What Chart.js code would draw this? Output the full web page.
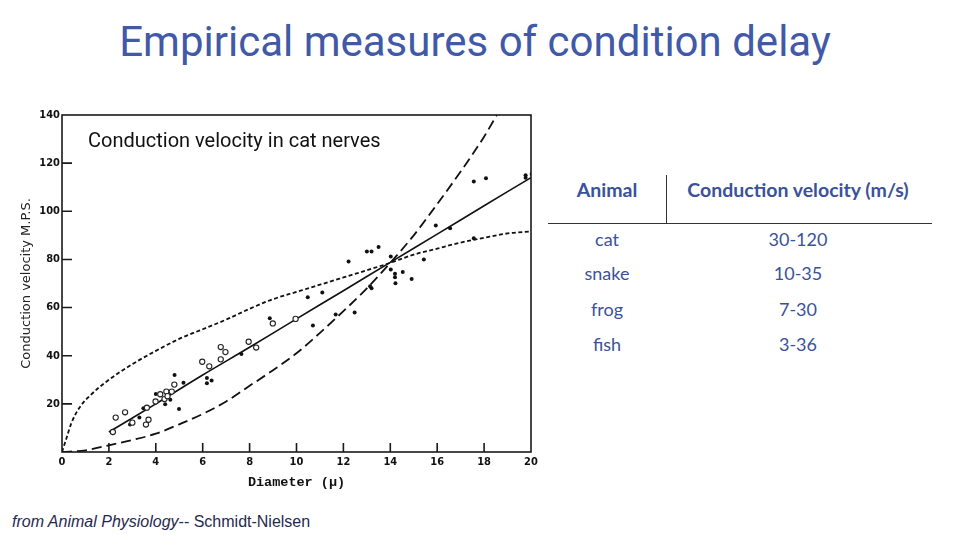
<!DOCTYPE html>
<html>
<head>
<meta charset="utf-8">
<script src="https://cdn.jsdelivr.net/npm/chart.js@4.4.1/dist/chart.umd.min.js"></script>
<style>
  body { margin: 0; width: 960px; height: 540px; background: #fff; position: relative; overflow: hidden; font-family: Roboto, sans-serif; }
  .abs { position: absolute; white-space: nowrap; }
  #title { left: 0; width: 950px; top: 17px; text-align: center; font: 42px Roboto, sans-serif; color: #4159a6; }
  #chartBox { position: absolute; left: 0; top: 100px; width: 545px; height: 400px; }
  #plotTitle { left: 88px; top: 128px; font: 20px Roboto, sans-serif; color: #111; }
  .cell { position: absolute; text-align: center; font: 18px Lato, sans-serif; color: #3a5299; transform: translateY(-50%); }
  .head { font-weight: bold; font-size: 19.5px; }
  #hline { position: absolute; left: 548px; top: 223px; width: 384px; height: 1.3px; background: #333; }
  #vline { position: absolute; left: 666px; top: 175px; width: 1.3px; height: 48px; background: #333; }
  #foot { left: 12px; top: 513px; font: 16px "Liberation Sans", Arial, sans-serif; color: #1f2a50; }
</style>
</head>
<body>
<div id="title" class="abs">Empirical measures of condition delay</div>
<div id="chartBox"><canvas id="nerves"></canvas></div>
<div id="plotTitle" class="abs">Conduction velocity in cat nerves</div>
<div id="table"></div>
<div id="hline"></div>
<div id="vline"></div>
<div id="foot" class="abs"><i>from Animal Physiology</i>-- Schmidt-Nielsen</div>

<script>
// ! data
const xTicks = [0, 2, 4, 6, 8, 10, 12, 14, 16, 18, 20];
const yTicks = [0, 20, 40, 60, 80, 100, 120, 140];

// open circles (x = diameter, y = velocity)
const openX = [2.17, 2.29, 2.69, 3.0, 3.58, 3.62, 3.69, 3.99, 4.19, 4.37, 4.45, 4.5, 4.68, 4.79, 5.98, 6.28, 6.77, 6.77, 6.97, 7.96, 8.28, 8.99, 9.96];
const openY = [8.3, 14.3, 16.5, 12.2, 11.4, 18.4, 13.4, 21, 24, 22, 25.1, 23.2, 25.1, 28, 37.5, 35.6, 38.5, 43.6, 41.5, 45.8, 43.4, 53.4, 55.3];

// filled dots
const dotX = [2.9, 3.3, 3.47, 4.0, 4.4, 4.62, 4.8, 4.99, 5.18, 6.18, 6.18, 6.38, 7.65, 8.86, 10.48, 10.7, 11.1, 11.67, 12.48, 12.22, 13.0, 13.2, 13.5, 13.14, 13.2, 14.02, 14.02, 14.2, 14.2, 14.22, 14.53, 14.91, 15.43, 15.94, 16.55, 17.56, 17.56, 18.08, 19.77, 19.77, 20.03];
const dotY = [11.4, 14.3, 18.2, 24.1, 19.8, 21.7, 32, 17.9, 28.8, 30.7, 28.6, 29.7, 40.7, 55.6, 64.3, 52.6, 66.3, 57.1, 58.0, 79.1, 83.3, 83.3, 85.2, 68.9, 68.0, 81.2, 75.8, 74, 72.6, 70.1, 74.8, 71.9, 80, 94.1, 93, 88.8, 112.4, 113.7, 115, 113.9, 115.5];

// solid fitted line
const solidX = [2, 4, 6, 8, 10, 12, 14, 16, 18, 20];
const solidY = [8.3, 20, 32, 43.5, 55.3, 67, 78.8, 90.5, 102.3, 114];

// long dashed curve
const dashX = [0, 1, 2, 3, 4, 5, 6, 7, 8, 9, 10, 11, 12, 13, 14, 15, 16, 17, 18, 18.6];
const dashY = [0, 0.7, 2.8, 5, 7.6, 11.5, 15.8, 21, 27.5, 34, 41, 49.5, 58.5, 68, 78.6, 90, 103, 116.5, 131, 141];

// short dashed curve
const dotLineX = [0, 0.2, 0.4, 0.75, 1.2, 2, 3, 4, 5, 6, 7, 8, 9, 10, 11, 12, 13, 14, 15, 16, 17, 18, 19, 20];
const dotLineY = [0, 6, 12, 18.5, 23.5, 30, 36.5, 42, 47, 51, 55, 59.5, 63.5, 66.5, 69.5, 72.5, 75.5, 78.6, 82, 84.5, 87, 89, 90.8, 91.6];

// table
const animals = ["cat", "snake", "frog", "fish"];
const velocities = ["30-120", "10-35", "7-30", "3-36"];

const pts = (xs, ys) => xs.map((v, i) => ({ x: v, y: ys[i] }));

// table cells
const table = document.getElementById("table");
function cell(text, cx, cy, w, head) {
  const d = document.createElement("div");
  d.className = "cell" + (head ? " head" : "");
  d.style.left = cx - w / 2 + "px";
  d.style.width = w + "px";
  d.style.top = cy + "px";
  d.textContent = text;
  table.appendChild(d);
}
cell("Animal", 607, 189, 110, true);
cell("Conduction velocity (m/s)", 798, 189, 280, true);
const rowY = [239, 273, 309, 344];
animals.forEach((a, i) => {
  cell(a, 607, rowY[i], 110, false);
  cell(velocities[i], 798, rowY[i], 260, false);
});

// frame and inward tick marks
const frameTicks = {
  id: "frameTicks",
  afterDraw(chart) {
    const { ctx, chartArea: a, scales } = chart;
    ctx.save();
    ctx.strokeStyle = "#1a1a1a";
    ctx.lineWidth = 1.6;
    ctx.strokeRect(a.left, a.top, a.width, a.height);
    ctx.beginPath();
    scales.x.ticks.forEach((t) => {
      if (t.value <= 0 || t.value >= 20) return;
      const px = scales.x.getPixelForValue(t.value);
      ctx.moveTo(px, a.bottom);
      ctx.lineTo(px, a.bottom - 9);
    });
    scales.y.ticks.forEach((t) => {
      if (t.value <= 0 || t.value >= 140) return;
      const py = scales.y.getPixelForValue(t.value);
      ctx.moveTo(a.left, py);
      ctx.lineTo(a.left + 10, py);
    });
    ctx.stroke();
    ctx.restore();
  },
};

const tickFont = { family: "'DejaVu Sans Condensed', 'Liberation Sans Narrow', 'DejaVu Sans', sans-serif", size: 11, weight: "bold" };

new Chart(document.getElementById("nerves"), {
  type: "scatter",
  data: {
    datasets: [
      {
        label: "open",
        data: pts(openX, openY),
        pointRadius: 2.6,
        pointBorderWidth: 1.1,
        pointBackgroundColor: "#fff",
        pointBorderColor: "#222",
      },
      {
        label: "filled",
        data: pts(dotX, dotY),
        pointRadius: 2,
        pointBorderWidth: 0,
        pointBackgroundColor: "#111",
      },
      {
        label: "fit",
        type: "line",
        data: pts(solidX, solidY),
        borderColor: "#111",
        borderWidth: 1.6,
        pointRadius: 0,
        tension: 0.3,
      },
      {
        label: "long dash",
        type: "line",
        data: pts(dashX, dashY),
        borderColor: "#111",
        borderWidth: 1.8,
        borderDash: [10, 5],
        pointRadius: 0,
        cubicInterpolationMode: "monotone",
      },
      {
        label: "short dash",
        type: "line",
        data: pts(dotLineX, dotLineY),
        borderColor: "#111",
        borderWidth: 1.8,
        borderDash: [4, 2.5],
        pointRadius: 0,
        cubicInterpolationMode: "monotone",
      },
    ],
  },
  options: {
    responsive: true,
    maintainAspectRatio: false,
    animation: false,
    layout: { padding: { top: 15, right: 14, left: 0, bottom: 0 } },
    plugins: { legend: { display: false }, tooltip: { enabled: false } },
    scales: {
      x: {
        type: "linear",
        min: 0,
        max: 20,
        afterBuildTicks: (s) => { s.ticks = xTicks.map((v) => ({ value: v })); },
        afterFit: (s) => { s.height = 48; },
        grid: { display: false, drawTicks: false },
        border: { display: false },
        ticks: { color: "#111", font: tickFont, padding: 4, maxRotation: 0 },
        title: {
          display: true,
          text: "Diameter (\u03bc)",
          color: "#111",
          font: { family: "'Liberation Mono', 'DejaVu Sans Mono', monospace", size: 13.5, weight: "bold" },
          padding: { top: 0, bottom: 9 },
        },
      },
      y: {
        min: 0,
        max: 140,
        afterBuildTicks: (s) => { s.ticks = yTicks.map((v) => ({ value: v })); },
        afterFit: (s) => { s.width = 62; },
        grid: { display: false, drawTicks: false },
        border: { display: false },
        ticks: {
          color: "#111",
          font: tickFont,
          padding: 2,
          callback: (v) => (v === 0 ? "" : v),
        },
        title: {
          display: true,
          text: "Conduction velocity M.P.S.",
          color: "#222",
          font: { family: "'DejaVu Sans', sans-serif", size: 13 },
          padding: { top: 19, bottom: 0 },
        },
      },
    },
  },
  plugins: [frameTicks],
});
</script>
</body>
</html>
